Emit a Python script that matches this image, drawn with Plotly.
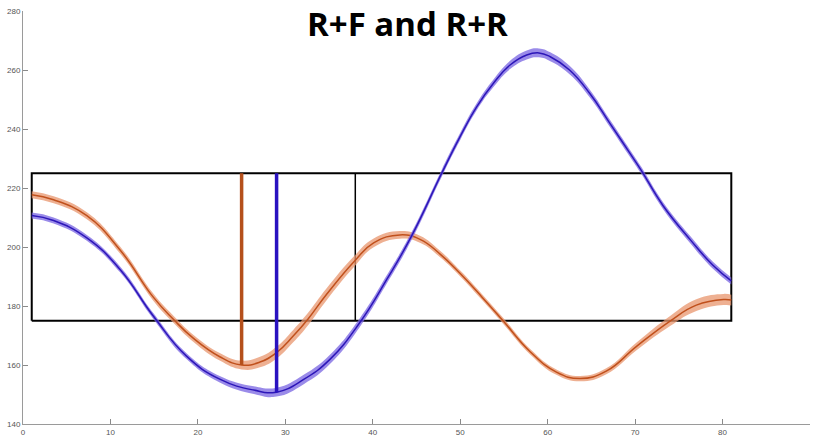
import plotly.graph_objects as go

# R+F condition (orange): mean trace and its standard error
rf_x = [1, 3.5, 7.3, 11.1, 14.9, 17.2, 19.5, 22.5, 25, 27.1, 29, 30.9, 32.6, 34.7,
        37.9, 40.1, 43.1, 45.4, 47.7, 50, 52.5, 54.9, 58, 61, 63.7, 66.7, 70.2,
        74, 77, 80.1, 81]
rf_y = [217.7, 216.0, 210.6, 199.0, 183.0, 175.5, 169.0, 162.8, 160.0, 161.0, 164.2,
        169.8, 175.6, 183.9, 195.2, 201.4, 204.1, 202.6, 197.6, 191.0, 183.0, 175.0,
        164.5, 157.6, 155.4, 157.9, 166.4, 174.9, 180.3, 182.2, 182.0]
rf_sem = [1.2, 1.2, 1.2, 1.2, 1.2, 1.2, 1.2, 1.3, 1.5, 1.8, 2.0, 2.1, 2.1, 2.0,
          1.8, 1.5, 1.3, 1.2, 1.1, 1.0, 1.0, 1.0, 0.9, 0.9, 0.9, 1.0, 1.3,
          1.7, 2.0, 1.9, 1.8]

# R+R condition (blue)
rr_x = [1, 3.5, 7.3, 11.1, 14.9, 18.7, 22.5, 26.4, 29, 32.1, 35.1, 38.5, 41.6,
        44.4, 47.9, 50, 51.9, 53.8, 55.7, 57.6, 59, 60.3, 62.5, 64.8, 67.1, 69.4,
        70.7, 73.2, 76.3, 78.9, 81]
rr_y = [210.7, 209.0, 203.1, 192.4, 176.6, 163.0, 155.2, 151.5, 150.8, 155.1, 161.9,
        174.3, 189.0, 203.5, 225.1, 237.5, 247.6, 255.5, 261.7, 265.1, 265.8, 264.5,
        260.0, 252.1, 242.0, 231.8, 226.0, 214.0, 202.5, 193.8, 188.5]
rr_sem = [1.0, 1.0, 1.0, 1.0, 1.0, 1.0, 1.1, 1.3, 1.5, 1.6, 1.6, 1.5, 1.4,
          1.3, 1.2, 1.2, 1.2, 1.3, 1.4, 1.5, 1.5, 1.5, 1.4, 1.3, 1.2, 1.2,
          1.2, 1.2, 1.2, 1.2, 1.2]

# Minima markers (frame, value) for R+F and R+R
onset_x = [25, 29]
onset_y = [160.0, 150.8]
marker_top = 225

# Analysis window and its split frame
window_x = [1, 81]
window_y = [175, 225]
split_x = 38

x_ticks = [0, 10, 20, 30, 40, 50, 60, 70, 80, 90]
y_ticks = [140, 160, 180, 200, 220, 240, 260, 280]

ORANGE = "#C0501C"
ORANGE_BAND = "rgba(232,150,110,0.75)"
BLUE = "#2C16B8"
BLUE_BAND = "rgba(120,100,225,0.75)"
SMOOTH = 1.3

fig = go.Figure()

# window rectangle and split line
wx0, wx1 = window_x
wy0, wy1 = window_y
fig.add_trace(go.Scatter(x=[wx0, wx1, wx1, wx0, wx0], y=[wy0, wy0, wy1, wy1, wy0],
                         mode="lines", line=dict(color="black", width=2),
                         hoverinfo="skip", showlegend=False))
fig.add_trace(go.Scatter(x=[split_x, split_x], y=[wy0, wy1], mode="lines",
                         line=dict(color="black", width=1.5),
                         hoverinfo="skip", showlegend=False))


def add_band(xs, ys, sems, band_color, line_color):
    upper = [y + s for y, s in zip(ys, sems)]
    lower = [y - s for y, s in zip(ys, sems)]
    fig.add_trace(go.Scatter(x=xs, y=upper, mode="lines",
                             line=dict(width=0, shape="spline", smoothing=SMOOTH),
                             hoverinfo="skip", showlegend=False))
    fig.add_trace(go.Scatter(x=xs, y=lower, mode="lines", fill="tonexty",
                             fillcolor=band_color,
                             line=dict(width=0, shape="spline", smoothing=SMOOTH),
                             hoverinfo="skip", showlegend=False))
    fig.add_trace(go.Scatter(x=xs, y=ys, mode="lines",
                             line=dict(color=line_color, width=1.5,
                                       shape="spline", smoothing=SMOOTH),
                             showlegend=False))


add_band(rf_x, rf_y, rf_sem, ORANGE_BAND, ORANGE)
add_band(rr_x, rr_y, rr_sem, BLUE_BAND, BLUE)

# vertical markers at the minima
for mx, my, col in zip(onset_x, onset_y, ["#B5501C", "#2A12C0"]):
    fig.add_trace(go.Scatter(x=[mx, mx], y=[my, marker_top], mode="lines",
                             line=dict(color=col, width=3.5),
                             hoverinfo="skip", showlegend=False))

axis_common = dict(
    showgrid=False, zeroline=False, showline=True, linecolor="#9a9a9a",
    linewidth=1, ticks="inside", ticklen=5, tickcolor="#8a8a8a",
    tickfont=dict(family="Liberation Sans Narrow, Arial Narrow, Liberation Sans", size=8,
                  color="#555555"),
    automargin=False, mirror=False,
)

fig.update_layout(
    width=813, height=437,
    margin=dict(l=23, r=3, t=11, b=13),
    paper_bgcolor="white", plot_bgcolor="white",
    xaxis=dict(range=[0, 90], tickvals=x_ticks, **axis_common),
    yaxis=dict(range=[140, 280], tickvals=y_ticks, **axis_common),
    annotations=[dict(
        text="<b>R+F and R+R</b>", xref="paper", yref="paper",
        x=0.488, y=1.0, xanchor="center", yanchor="middle", yshift=-12,
        showarrow=False, font=dict(family="Open Sans", size=33, color="black"),
    )],
)

fig.write_html("out.html")
